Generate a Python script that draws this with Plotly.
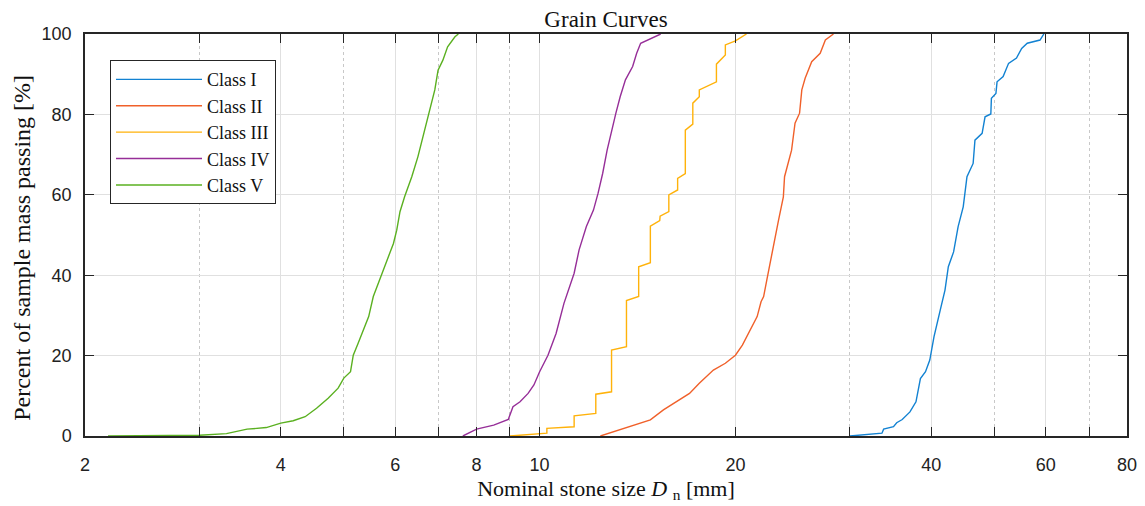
import plotly.graph_objects as go

# ---- data ----
class1_d = [30.0, 33.6, 33.8, 35.0, 35.4, 36.1, 37.1, 37.9, 38.5, 39.2, 39.8, 40.4, 41.3, 42.0, 42.5, 43.3,
            44.0, 44.8, 45.4, 46.4, 46.7, 47.9, 48.4, 49.4, 49.5, 50.3, 50.5, 51.6, 52.6, 54.1, 55.1, 56.2,
            58.8, 59.6]
class1_p = [0.0, 0.7, 1.7, 2.3, 3.3, 4.1, 6.0, 8.5, 14.3, 16.0, 18.9, 24.7, 31.3, 36.3, 42.1, 45.8,
            52.1, 57.0, 64.5, 67.8, 73.6, 75.3, 79.4, 80.1, 84.0, 85.2, 88.1, 89.4, 92.7, 94.0, 96.4, 97.7,
            98.5, 100.0]

class2_d = [12.4, 13.45, 14.8, 15.5, 16.25, 17.0, 17.6, 18.5, 19.3, 20.0, 20.5, 21.1, 21.6, 21.9, 22.1,
            22.35, 22.6, 22.9, 23.3, 23.7, 23.8, 24.4, 24.7, 25.1, 25.3, 25.6, 26.2, 27.0, 27.5, 28.3]
class2_p = [0.0, 1.9, 4.0, 6.5, 8.5, 10.6, 13.1, 16.4, 18.1, 20.1, 22.6, 26.4, 29.7, 33.4, 34.7,
            38.8, 43.0, 47.9, 53.7, 59.5, 64.5, 71.1, 77.8, 80.3, 86.1, 89.0, 93.1, 95.2, 98.5, 100.0]

class3_d = [9.0, 10.26, 10.26, 11.3, 11.3, 12.2, 12.2, 12.9, 12.9, 13.6, 13.6, 14.2, 14.2, 14.8, 14.8,
            15.3, 15.32, 15.8, 15.8, 16.3, 16.3, 16.75, 16.75, 17.2, 17.2, 17.6, 17.6, 18.7, 18.7,
            19.3, 19.3, 20.0, 20.8]
class3_p = [0.0, 0.7, 1.9, 2.3, 5.0, 5.6, 10.4, 11.0, 21.4, 22.2, 33.7, 34.7, 42.1, 43.1, 52.2,
            53.6, 54.7, 55.8, 60.0, 61.2, 64.1, 65.3, 76.1, 77.6, 82.8, 84.4, 86.1, 88.1, 92.5,
            94.8, 97.3, 98.3, 100.0]

class4_d = [7.62, 8.0, 8.5, 8.95, 9.1, 9.33, 9.6, 9.8, 10.0, 10.3, 10.6, 10.9, 11.3, 11.5, 11.8, 12.1,
            12.3, 12.5, 12.7, 12.9, 13.1, 13.3, 13.55, 13.9, 14.1, 14.3, 14.8, 15.35]
class4_p = [0.0, 1.7, 2.7, 4.1, 7.3, 8.5, 10.6, 12.7, 16.0, 20.1, 25.5, 33.0, 40.5, 46.3, 52.1, 56.2,
            60.4, 65.3, 71.1, 76.1, 80.3, 84.4, 88.6, 91.9, 95.2, 97.7, 98.9, 100.0]

class5_d = [2.17, 3.0, 3.3, 3.55, 3.8, 4.0, 4.18, 4.36, 4.54, 4.73, 4.9, 5.0, 5.12, 5.17, 5.26, 5.36,
            5.46, 5.55, 5.65, 5.75, 5.85, 5.96, 6.03, 6.1, 6.2, 6.36, 6.5, 6.66, 6.77, 6.9, 6.98, 7.1,
            7.22, 7.41, 7.5]
class5_p = [0.0, 0.2, 0.6, 1.7, 2.1, 3.2, 3.8, 4.8, 6.9, 9.4, 11.9, 14.4, 16.0, 20.1, 23.1, 26.4,
            29.7, 34.7, 38.0, 41.3, 44.6, 47.9, 51.2, 55.8, 59.5, 64.5, 69.5, 76.1, 80.7, 86.1, 91.0, 93.5,
            96.8, 99.3, 100.0]

series_names = ["Class I", "Class II", "Class III", "Class IV", "Class V"]
series_colors = ["#1282D2", "#F0602A", "#FFB20A", "#962E98", "#5AB020"]

x_major = [2, 4, 6, 8, 10, 20, 40, 60, 80]
x_minor = [3, 5, 7, 9, 30, 50, 70]
y_ticks = [0, 20, 40, 60, 80, 100]

SERIF = "Liberation Serif"
SANS = "Liberation Sans"
DARK = "#262626"

fig = go.Figure()
all_d = [class1_d, class2_d, class3_d, class4_d, class5_d]
all_p = [class1_p, class2_p, class3_p, class4_p, class5_p]
for name, col, d, p in zip(series_names, series_colors, all_d, all_p):
    fig.add_trace(go.Scatter(x=d, y=p, mode="lines", name=name,
                             line=dict(color=col, width=1.4)))

fig.update_layout(
    width=1145, height=506,
    margin=dict(l=85, r=18, t=34, b=70),
    paper_bgcolor="white", plot_bgcolor="white",
    title=dict(text="Grain Curves", x=0.5, xref="paper", xanchor="center",
               y=0.962, yanchor="middle",
               font=dict(family=SERIF, size=23, color="#111111")),
    legend=dict(x=0.024, y=0.935, xanchor="left", yanchor="top",
                bgcolor="white", bordercolor=DARK, borderwidth=1,
                font=dict(family=SERIF, size=18, color="#111111"),
                itemwidth=86, tracegroupgap=0),
    xaxis=dict(type="log", range=[0.30103, 1.90309], automargin=False,
               tickmode="array", tickvals=x_major, ticktext=[str(v) for v in x_major],
               ticks="inside", ticklen=9, tickwidth=1.2, tickcolor=DARK,
               showline=True, linecolor=DARK, linewidth=1.5, mirror="ticks",
               showgrid=True, gridcolor="#e0e0e0", gridwidth=1,
               zeroline=False, ticklabelstandoff=12,
               tickfont=dict(family=SANS, size=18, color="#222222"),
               minor=dict(tickmode="array", tickvals=x_minor, ticks="inside", ticklen=9,
                          tickwidth=1.2, tickcolor=DARK, showgrid=True,
                          gridcolor="#c8c8c8", griddash="dot", gridwidth=1),
               title=dict(text="Nominal stone size <i>D</i> <sub>n</sub> [mm]",
                          font=dict(family=SERIF, size=22, color="#111111"), standoff=6)),
    yaxis=dict(range=[0, 100], tickmode="array", tickvals=y_ticks, automargin=False,
               ticks="inside", ticklen=9, tickwidth=1.2, tickcolor=DARK,
               showline=True, linecolor=DARK, linewidth=1.5, mirror="ticks",
               showgrid=True, gridcolor="#e0e0e0", gridwidth=1,
               zeroline=False, ticklabelstandoff=8,
               tickfont=dict(family=SANS, size=18, color="#222222")),
    annotations=[dict(text="Percent of sample mass passing [%]", textangle=-90,
                      xref="paper", yref="paper", x=-0.0605, y=0.468,
                      xanchor="center", yanchor="middle", showarrow=False,
                      font=dict(family=SERIF, size=24, color="#111111"))],
)

fig.write_html("out.html", config={"displayModeBar": False},
               post_script=["document.body.style.margin='0';"])
